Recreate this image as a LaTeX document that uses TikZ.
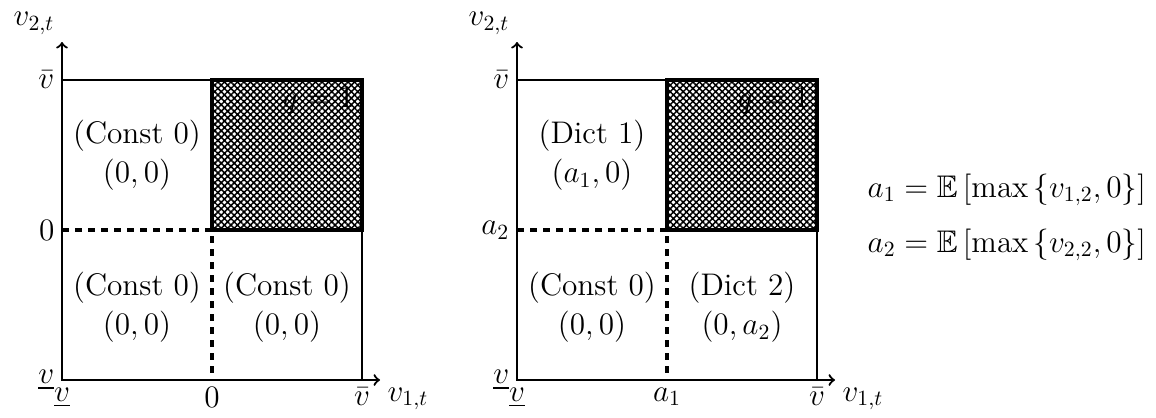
\documentclass[tikz,border=0pt]{standalone}
\usepackage{amsmath,amssymb}
\usetikzlibrary{patterns, patterns.meta, positioning}
\tikzstyle{region} = [align=center]
\tikzstyle{axis} = [line width=1pt, ->]
\tikzstyle{frame} = [line width=1pt]
\tikzstyle{winner} = [line width=2pt]
\tikzstyle{split} = [ultra thick, dashed]
\tikzstyle{hatched} = [pattern={Hatch[angle=45, distance=2.12pt, line width=0.7pt]}]

\begin{document}
\begin{tikzpicture}[x=0.4608pt, y=0.4608pt, every node/.style={font=\Large}]
    \useasboundingbox (0,0) rectangle (1156,417);

    % left panel: constant prices
    \begin{scope}[shift={(62,37)}]
        \coordinate (Lo) at (0,0);
        \coordinate (Lmid) at (150,150);
        \coordinate (Ltop) at (300,300);
        \coordinate (Lytip) at (0,338);
        \coordinate (Lxtip) at (318,0);

        \node (Lq) [anchor=north east] at (300,300) {$q=1$};
        \fill [hatched] (Lmid) rectangle (Ltop);
        \draw [frame] (Lo) rectangle (Ltop);
        \draw [winner] (Lmid) rectangle (Ltop);
        \draw [split] (0,150) -- (Lmid) -- (150,0);
        \draw [axis] (Lo) -- (Lytip);
        \draw [axis] (Lo) -- (Lxtip);

        \node (Lnw) [region] at (75,225) {(Const 0)\\$(0,0)$};
        \node (Lsw) [region] at (75,73) {(Const 0)\\$(0,0)$};
        \node (Lse) [region] at (225,73) {(Const 0)\\$(0,0)$};

        \node (Lylab) [above left] at (Lytip) {$v_{2,t}$};
        \node (Lxlab) [below right] at (Lxtip) {$v_{1,t}$};
        \node (Lyhi) [left] at (0,300) {$\bar{v}$};
        \node (Lymid) [left] at (0,150) {$0$};
        \node (Lylo) [left] at (Lo) {$\underline{v}$};
        \node (Lxlo) [below] at (Lo) {$\underline{v}$};
        \node (Lxmid) [below] at (150,0) {$0$};
        \node (Lxhi) [below] at (300,0) {$\bar{v}$};
    \end{scope}

    % right panel: dictator prices
    \begin{scope}[shift={(517,37)}]
        \coordinate (Ro) at (0,0);
        \coordinate (Rmid) at (150,150);
        \coordinate (Rtop) at (300,300);
        \coordinate (Rytip) at (0,338);
        \coordinate (Rxtip) at (318,0);

        \node (Rq) [anchor=north east] at (300,300) {$q=1$};
        \fill [hatched] (Rmid) rectangle (Rtop);
        \draw [frame] (Ro) rectangle (Rtop);
        \draw [winner] (Rmid) rectangle (Rtop);
        \draw [split] (0,150) -- (Rmid) -- (150,0);
        \draw [axis] (Ro) -- (Rytip);
        \draw [axis] (Ro) -- (Rxtip);

        \node (Rnw) [region] at (75,225) {(Dict 1)\\$(a_1,0)$};
        \node (Rsw) [region] at (75,73) {(Const 0)\\$(0,0)$};
        \node (Rse) [region] at (225,73) {(Dict 2)\\$(0,a_2)$};

        \node (Rylab) [above left] at (Rytip) {$v_{2,t}$};
        \node (Rxlab) [below right] at (Rxtip) {$v_{1,t}$};
        \node (Ryhi) [left] at (0,300) {$\bar{v}$};
        \node (Rymid) [left] at (0,150) {$a_2$};
        \node (Rylo) [left] at (Ro) {$\underline{v}$};
        \node (Rxlo) [below] at (Ro) {$\underline{v}$};
        \node (Rxmid) [below] at (150,0) {$a_1$};
        \node (Rxhi) [below] at (300,0) {$\bar{v}$};
    \end{scope}

    % expected values
    \node (eqone) [anchor=west] at (860,227) {$a_1 = \mathbb{E}\left[\max\left\{v_{1,2},0\right\}\right]$};
    \node (eqtwo) [anchor=west] at (860,172) {$a_2 = \mathbb{E}\left[\max\left\{v_{2,2},0\right\}\right]$};

\end{tikzpicture}
\end{document}
